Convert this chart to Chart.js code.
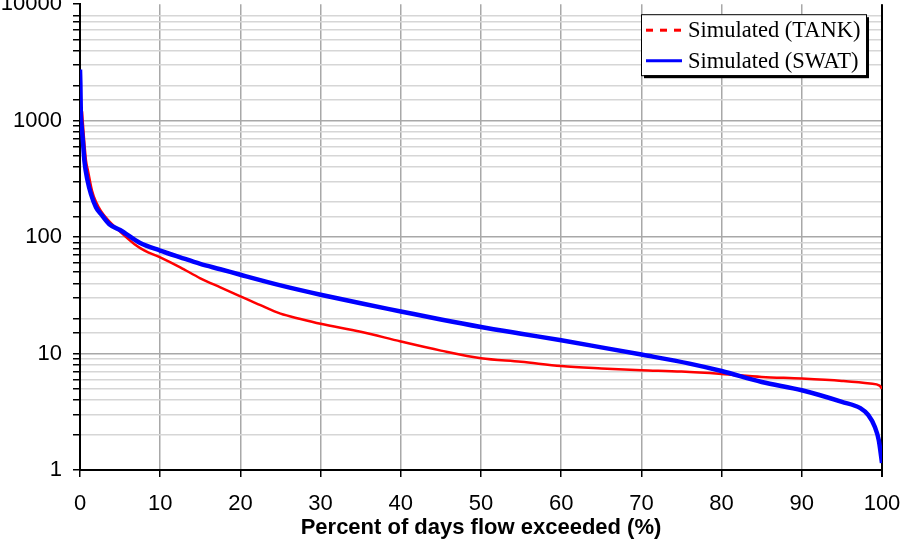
<!DOCTYPE html>
<html>
<head>
<meta charset="utf-8">
<script src="https://cdn.jsdelivr.net/npm/chart.js@4"></script>
<style>
  html, body { margin: 0; padding: 0; background: #fff; }
  #wrap { position: relative; width: 901px; height: 546px; overflow: hidden; }
  #myChart { position: absolute; left: 0; top: -20px; }
</style>
</head>
<body>
<div id="wrap"><canvas id="myChart" width="901" height="566"></canvas></div>
<script>
// Flow duration curves
const tankX = [0.25, 0.5, 0.75, 1.0, 1.5, 2, 2.6, 3.5, 4.9, 6.8, 8, 10, 12.5, 15, 17.5, 20, 22.5, 25, 27.5, 30, 35, 40, 45, 50, 55, 60, 65, 70, 75, 80, 85, 90, 95, 98.5, 99.7, 100];
const tankY = [1200, 700, 451, 370, 250, 200, 168, 140, 113, 87, 77, 67, 55, 44.3, 37, 31, 26, 22, 19.8, 18, 15.4, 12.7, 10.6, 9.1, 8.5, 7.8, 7.45, 7.2, 7.0, 6.68, 6.3, 6.1, 5.82, 5.52, 5.3, 5.0];

const swatX = [0, 0.05, 0.1, 0.2, 0.33, 0.55, 0.95, 1.37, 2.0, 2.7, 3.66, 5, 7.5, 10, 12.5, 15, 17.5, 20, 25, 30, 35, 40, 45, 50, 55, 60, 65, 70, 76, 80, 85, 90, 95, 97.3, 98.3, 99.1, 99.6, 100];
const swatY = [2750, 2000, 1200, 900, 713, 451, 304, 234, 180, 155, 129, 115, 89, 76.6, 67, 58.9, 53, 47.5, 38.5, 32, 27, 23, 19.6, 16.9, 14.8, 13, 11.3, 9.8, 8.2, 7.08, 5.7, 4.84, 3.85, 3.4, 2.96, 2.35, 1.8, 1.15];

const xTicks = [0, 10, 20, 30, 40, 50, 60, 70, 80, 90, 100];
const yLabels = [1, 10, 100, 1000, 10000];

const toPoints = (xs, ys) => xs.map((x, i) => ({ x: x, y: ys[i] }));
const isDecade = v => yLabels.includes(Math.round(v));

Chart.defaults.font.family = "'Liberation Sans', Arial, sans-serif";
Chart.defaults.color = '#000';

// right frame line + legend box with shadow, drawn inside the plot
const boxLegend = {
    id: 'boxLegend',
    beforeDatasetsDraw(chart) {
        const c = chart.ctx;
        const a = chart.chartArea;
        c.save();
        c.strokeStyle = '#000';
        c.lineWidth = 2;
        c.beginPath();
        c.moveTo(a.right, a.top);
        c.lineTo(a.right, a.bottom + 7);
        c.stroke();
        c.restore();
    },
    afterDraw(chart) {
        const c = chart.ctx;
        const a = chart.chartArea;
        const w = 225, h = 61;
        const x = a.right - 241, y = a.top + 10;
        c.save();
        c.fillStyle = '#000';
        c.fillRect(x + 3, y + 3, w, h);
        c.fillStyle = '#fff';
        c.fillRect(x, y, w, h);
        c.strokeStyle = '#000';
        c.lineWidth = 1;
        c.strokeRect(x + 0.5, y + 0.5, w, h);
        const items = [chart.data.datasets[1], chart.data.datasets[0]];
        items.forEach((ds, i) => {
            const ly = y + 16 + i * 30.5;
            c.beginPath();
            c.strokeStyle = ds.borderColor;
            c.lineWidth = 3;
            c.setLineDash(ds.legendDash || []);
            c.moveTo(x + 5, ly);
            c.lineTo(x + 41, ly);
            c.stroke();
            c.setLineDash([]);
            c.fillStyle = '#000';
            c.font = "22.5px 'Liberation Serif', 'Times New Roman', serif";
            c.textBaseline = 'middle';
            c.fillText(ds.label, x + 47, ly + 1);
        });
        c.restore();
    }
};

const ctx = document.getElementById('myChart').getContext('2d');

new Chart(ctx, {
    type: 'line',
    data: {
        datasets: [{
            label: 'Simulated (SWAT)',
            data: toPoints(swatX, swatY),
            borderColor: '#0000ff',
            borderWidth: 4.5,
            pointRadius: 0,
            cubicInterpolationMode: 'monotone',
            order: 1
        }, {
            label: 'Simulated (TANK)',
            data: toPoints(tankX, tankY),
            borderColor: '#ff0000',
            borderWidth: 2.5,
            pointRadius: 0,
            cubicInterpolationMode: 'monotone',
            legendDash: [7, 7],
            order: 2
        }]
    },
    options: {
        responsive: false,
        animation: false,
        layout: { padding: { top: 23, right: 19, left: 0, bottom: 0 } },
        plugins: {
            legend: { display: false },
            tooltip: { enabled: false }
        },
        scales: {
            x: {
                type: 'linear',
                min: 0,
                max: 100,
                afterBuildTicks: s => { s.ticks = xTicks.map(v => ({ value: v })); },
                afterFit: s => { s.height = 76; s.paddingRight = 0; s.paddingLeft = 0; },
                border: { color: '#000', width: 2 },
                grid: {
                    color: '#a8a8a8',
                    lineWidth: 1.5,
                    tickColor: '#000',
                    tickLength: 7
                },
                ticks: { font: { size: 22 }, padding: 14, maxRotation: 0 },
                title: {
                    display: true,
                    text: 'Percent of days flow exceeded (%)',
                    font: { size: 22, weight: 'bold' },
                    padding: { top: 0, bottom: 5 }
                }
            },
            y: {
                type: 'logarithmic',
                min: 1,
                max: 10000,
                afterFit: s => { s.width = 80; },
                border: { color: '#000', width: 2 },
                grid: {
                    color: c => {
                        const v = c.tick ? c.tick.value : 0;
                        if (v > 8500) return 'rgba(0,0,0,0)';
                        return isDecade(v) ? '#a8a8a8' : '#d6d6d6';
                    },
                    lineWidth: 1.5,
                    tickColor: c => (c.tick && c.tick.value > 8500 && c.tick.value < 9999) ? 'rgba(0,0,0,0)' : '#000',
                    tickLength: 7
                },
                ticks: {
                    autoSkip: false,
                    font: { size: 22 },
                    padding: 11,
                    callback: v => isDecade(v) ? String(Math.round(v)) : ''
                }
            }
        }
    },
    plugins: [boxLegend]
});
</script>
</body>
</html>
